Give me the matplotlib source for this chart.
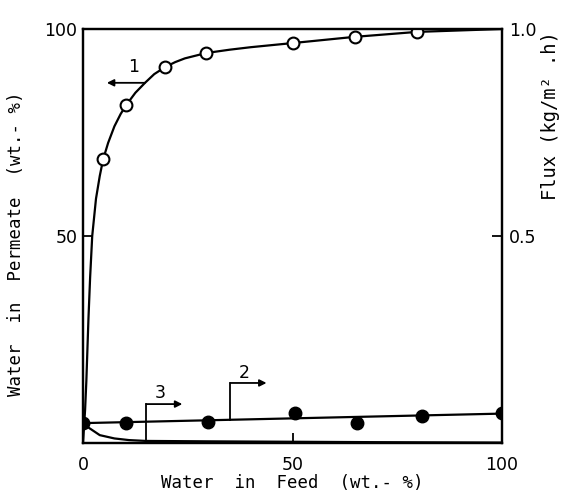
import matplotlib
matplotlib.use("Agg")
import matplotlib.pyplot as plt

# ---- data ----
feed_water_pts = [4.8, 10.3, 19.6, 29.4, 50.0, 64.8, 79.7]
permeate_water_pts = [68.5, 81.6, 90.8, 94.2, 96.6, 98.1, 99.3]

curve1_x = [0.0, 0.5, 0.8, 1.3, 1.7, 2.2, 3.1, 4.0, 4.8, 6.0, 7.5, 9.0, 10.3, 12.5, 14.8, 17.0, 19.6, 22.0, 24.3, 29.4, 35.0, 40.0, 50.0, 64.8, 79.7, 100.0]
curve1_y = [0.0, 8.0, 15.0, 30.0, 40.0, 50.0, 59.0, 64.5, 68.5, 72.5, 76.5, 79.5, 81.6, 84.6, 87.0, 89.1, 90.8, 92.0, 92.9, 94.2, 95.0, 95.6, 96.6, 98.1, 99.3, 100.0]

flux_x = [0.0, 10.3, 29.9, 50.5, 65.3, 80.9, 100.0]
flux_y = [0.048, 0.048, 0.051, 0.073, 0.048, 0.065, 0.073]

curve2_x = [0.0, 100.0]
curve2_y = [0.048, 0.071]

curve3_x = [0.0, 1.5, 4.0, 7.5, 11.0, 15.0, 30.0, 50.0, 70.0, 100.0]
curve3_y = [0.048, 0.036, 0.019, 0.011, 0.007, 0.005, 0.004, 0.003, 0.002, 0.001]

x_ticks = [0, 50, 100]
y_ticks = [50, 100]
y2_ticks = [0.5, 1.0]
y2_ticklabels = ["0.5", "1.0"]

# ---- figure ----
W, H = 564, 493
fig = plt.figure(figsize=(W / 100, H / 100), dpi=100)
L, R, T, B = 83, 502, 29, 443
ax = fig.add_axes([L / W, 1 - B / H, (R - L) / W, (B - T) / H])
ax2 = ax.twinx()

ax.plot(curve1_x, curve1_y, color="black", lw=1.6, zorder=3)
ax.plot(feed_water_pts, permeate_water_pts, "o", ms=8.5, mfc="white", mec="black", mew=1.5, zorder=4)
ax.set_xlim(0, 100)
ax.set_ylim(0, 100)

ax2.plot(curve2_x, curve2_y, color="black", lw=1.6)
ax2.plot(curve3_x, curve3_y, color="black", lw=1.6)
ax2.plot(flux_x, flux_y, "o", ms=9, color="black")
ax2.set_ylim(0, 1.0)

for a in (ax, ax2):
    for s in a.spines.values():
        s.set_linewidth(1.6)

tick_font = dict(family="DejaVu Sans", size=12.5)
ax.set_xticks(x_ticks)
ax.set_xticklabels([str(v) for v in x_ticks], **tick_font)
ax.set_yticks(y_ticks)
ax.set_yticklabels([str(v) for v in y_ticks], **tick_font)
ax2.set_yticks(y2_ticks)
ax2.set_yticklabels(y2_ticklabels, **tick_font)
ax.tick_params(axis="x", direction="in", length=7, width=1.3, pad=9)
ax.tick_params(axis="y", direction="in", length=7, width=1.3, pad=4)
ax2.tick_params(axis="y", direction="in", length=7, width=1.3, pad=5)

lab_font = dict(family="DejaVu Sans Mono", size=12.5)
fig.text(292 / W, 1 - 483 / H, "Water  in  Feed  (wt.- %)", ha="center", va="center", **lab_font)
fig.text(16 / W, 1 - 244 / H, "Water  in  Permeate  (wt.- %)", ha="center", va="center", rotation=90, **lab_font)
fig.text(551 / W, 1 - 116 / H, "Flux (kg/m² .h)", ha="center", va="center", rotation=90, size=13.5, family="DejaVu Sans Mono")

# ---- annotations (curve labels with arrows) ----
arrow_kw = dict(arrowstyle="-|>", color="black", lw=1.3, mutation_scale=10, shrinkA=0, shrinkB=0)
ax.annotate("", xy=(5.7, 87.0), xytext=(14.8, 87.0), arrowprops=arrow_kw)
ax.text(12.2, 90.8, "1", ha="center", va="center", family="DejaVu Sans", size=12.5)

ax2.plot([15.1, 15.1], [0.005, 0.094], color="black", lw=1.3)
ax2.annotate("", xy=(23.7, 0.094), xytext=(15.1, 0.094), arrowprops=arrow_kw)
ax2.text(18.4, 0.121, "3", ha="center", va="center", family="DejaVu Sans", size=12.5)

ax2.plot([35.2, 35.2], [0.056, 0.145], color="black", lw=1.3)
ax2.annotate("", xy=(43.8, 0.145), xytext=(35.2, 0.145), arrowprops=arrow_kw)
ax2.text(38.5, 0.17, "2", ha="center", va="center", family="DejaVu Sans", size=12.5)

fig.savefig("out.png", dpi=100)
